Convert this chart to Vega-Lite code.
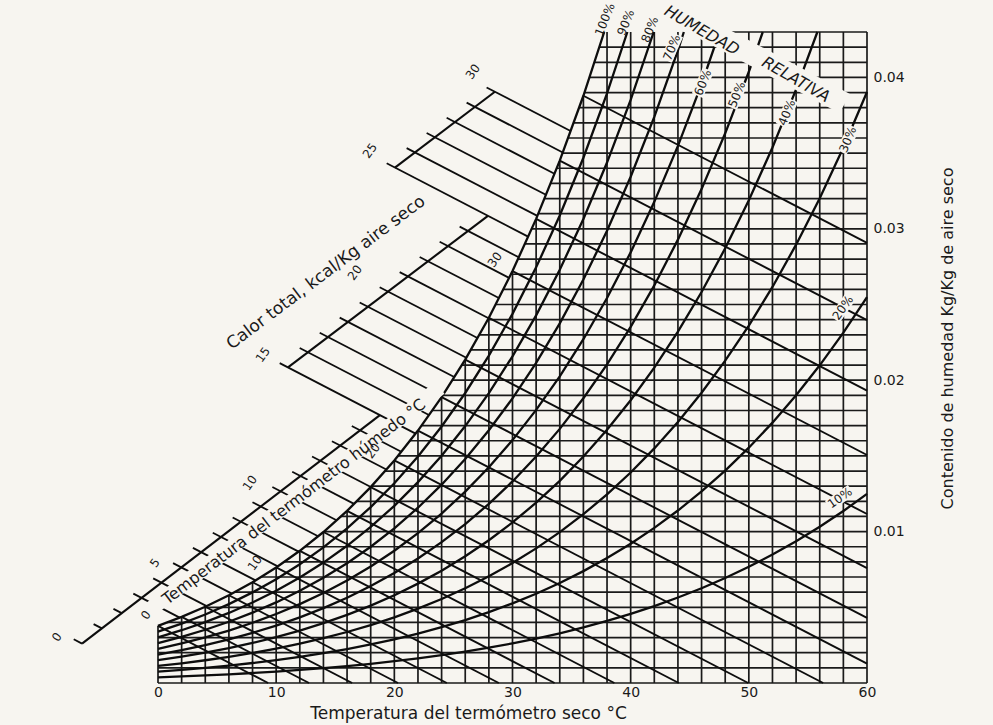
{
"$schema":"https://vega.github.io/schema/vega-lite/v6.json",
"width":709,"height":651,
"autosize":{"type":"none"},
"padding":{"left":158,"top":32,"right":126,"bottom":42},
"background":"#f7f5f0",
"config":{"view":{"stroke":null},"text":{"font":"DejaVu Sans"}},
"datasets":{
"seg":[
{"k":"grid","T":0,"W":0,"T2":0,"W2":0.0037754},
{"k":"grid","T":2,"W":0,"T2":2,"W2":0.0043643},
{"k":"grid","T":4,"W":0,"T2":4,"W2":0.0050349},
{"k":"grid","T":6,"W":0,"T2":6,"W2":0.0057956},
{"k":"grid","T":8,"W":0,"T2":8,"W2":0.0066573},
{"k":"grid","T":10,"W":0,"T2":10,"W2":0.007632},
{"k":"grid","T":12,"W":0,"T2":12,"W2":0.0087322},
{"k":"grid","T":14,"W":0,"T2":14,"W2":0.0099731},
{"k":"grid","T":16,"W":0,"T2":16,"W2":0.0113691},
{"k":"grid","T":18,"W":0,"T2":18,"W2":0.012938},
{"k":"grid","T":20,"W":0,"T2":20,"W2":0.0146989},
{"k":"grid","T":22,"W":0,"T2":22,"W2":0.0166732},
{"k":"grid","T":24,"W":0,"T2":24,"W2":0.018884},
{"k":"grid","T":26,"W":0,"T2":26,"W2":0.0213578},
{"k":"grid","T":28,"W":0,"T2":28,"W2":0.024122},
{"k":"grid","T":30,"W":0,"T2":30,"W2":0.0272097},
{"k":"grid","T":32,"W":0,"T2":32,"W2":0.0306553},
{"k":"grid","T":34,"W":0,"T2":34,"W2":0.0344996},
{"k":"grid","T":36,"W":0,"T2":36,"W2":0.038789},
{"k":"grid","T":38,"W":0,"T2":38,"W2":0.043},
{"k":"grid","T":40,"W":0,"T2":40,"W2":0.043},
{"k":"grid","T":42,"W":0,"T2":42,"W2":0.043},
{"k":"grid","T":44,"W":0,"T2":44,"W2":0.043},
{"k":"grid","T":46,"W":0,"T2":46,"W2":0.043},
{"k":"grid","T":48,"W":0,"T2":48,"W2":0.043},
{"k":"grid","T":50,"W":0,"T2":50,"W2":0.043},
{"k":"grid","T":52,"W":0,"T2":52,"W2":0.043},
{"k":"grid","T":54,"W":0,"T2":54,"W2":0.043},
{"k":"grid","T":56,"W":0,"T2":56,"W2":0.043},
{"k":"grid","T":58,"W":0,"T2":58,"W2":0.043},
{"k":"grid","T":60,"W":0,"T2":60,"W2":0.043},
{"k":"grid","T":0,"W":0,"T2":60,"W2":0},
{"k":"grid","T":0,"W":0.001,"T2":60,"W2":0.001},
{"k":"grid","T":0,"W":0.002,"T2":60,"W2":0.002},
{"k":"grid","T":0,"W":0.003,"T2":60,"W2":0.003},
{"k":"grid","T":0.763,"W":0.004,"T2":60,"W2":0.004},
{"k":"grid","T":3.896,"W":0.005,"T2":60,"W2":0.005},
{"k":"grid","T":6.474,"W":0.006,"T2":60,"W2":0.006},
{"k":"grid","T":8.703,"W":0.007,"T2":60,"W2":0.007},
{"k":"grid","T":10.669,"W":0.008,"T2":60,"W2":0.008},
{"k":"grid","T":12.432,"W":0.009,"T2":60,"W2":0.009},
{"k":"grid","T":14.039,"W":0.010,"T2":60,"W2":0.010},
{"k":"grid","T":15.471,"W":0.011,"T2":60,"W2":0.011},
{"k":"grid","T":16.804,"W":0.012,"T2":60,"W2":0.012},
{"k":"grid","T":18.070,"W":0.013,"T2":60,"W2":0.013},
{"k":"grid","T":19.206,"W":0.014,"T2":60,"W2":0.014},
{"k":"grid","T":20.305,"W":0.015,"T2":60,"W2":0.015},
{"k":"grid","T":21.318,"W":0.016,"T2":60,"W2":0.016},
{"k":"grid","T":22.296,"W":0.017,"T2":60,"W2":0.017},
{"k":"grid","T":23.200,"W":0.018,"T2":60,"W2":0.018},
{"k":"grid","T":24.094,"W":0.019,"T2":60,"W2":0.019},
{"k":"grid","T":24.902,"W":0.020,"T2":60,"W2":0.020},
{"k":"grid","T":25.711,"W":0.021,"T2":60,"W2":0.021},
{"k":"grid","T":26.465,"W":0.022,"T2":60,"W2":0.022},
{"k":"grid","T":27.188,"W":0.023,"T2":60,"W2":0.023},
{"k":"grid","T":27.912,"W":0.024,"T2":60,"W2":0.024},
{"k":"grid","T":28.569,"W":0.025,"T2":60,"W2":0.025},
{"k":"grid","T":29.216,"W":0.026,"T2":60,"W2":0.026},
{"k":"grid","T":29.864,"W":0.027,"T2":60,"W2":0.027},
{"k":"grid","T":30.459,"W":0.028,"T2":60,"W2":0.028},
{"k":"grid","T":31.039,"W":0.029,"T2":60,"W2":0.029},
{"k":"grid","T":31.620,"W":0.030,"T2":60,"W2":0.030},
{"k":"grid","T":32.179,"W":0.031,"T2":60,"W2":0.031},
{"k":"grid","T":32.700,"W":0.032,"T2":60,"W2":0.032},
{"k":"grid","T":33.220,"W":0.033,"T2":60,"W2":0.033},
{"k":"grid","T":33.740,"W":0.034,"T2":60,"W2":0.034},
{"k":"grid","T":34.233,"W":0.035,"T2":60,"W2":0.035},
{"k":"grid","T":34.700,"W":0.036,"T2":60,"W2":0.036},
{"k":"grid","T":35.166,"W":0.037,"T2":60,"W2":0.037},
{"k":"grid","T":35.632,"W":0.038,"T2":60,"W2":0.038},
{"k":"grid","T":36.088,"W":0.039,"T2":60,"W2":0.039},
{"k":"grid","T":36.506,"W":0.040,"T2":60,"W2":0.040},
{"k":"grid","T":36.925,"W":0.041,"T2":60,"W2":0.041},
{"k":"grid","T":37.343,"W":0.042,"T2":60,"W2":0.042},
{"k":"grid","T":48.5,"W":0.043,"T2":60,"W2":0.043},
{"k":"wb","T":0,"W":0.0037754,"T2":9.32,"W2":0},
{"k":"wb","T":2,"W":0.0043643,"T2":12.78,"W2":0},
{"k":"wb","T":4,"W":0.0050349,"T2":16.43,"W2":0},
{"k":"wb","T":6,"W":0.0057956,"T2":20.31,"W2":0},
{"k":"wb","T":8,"W":0.0066573,"T2":24.44,"W2":0},
{"k":"wb","T":10,"W":0.007632,"T2":28.84,"W2":0},
{"k":"wb","T":12,"W":0.0087322,"T2":33.56,"W2":0},
{"k":"wb","T":14,"W":0.0099731,"T2":38.62,"W2":0},
{"k":"wb","T":16,"W":0.0113691,"T2":44.07,"W2":0},
{"k":"wb","T":18,"W":0.012938,"T2":49.95,"W2":0},
{"k":"wb","T":20,"W":0.0146989,"T2":56.29,"W2":0},
{"k":"wb","T":22,"W":0.0166732,"T2":60,"W2":0.0012832},
{"k":"wb","T":24,"W":0.018884,"T2":60,"W2":0.004304},
{"k":"wb","T":26,"W":0.0213578,"T2":60,"W2":0.0075878},
{"k":"wb","T":28,"W":0.024122,"T2":60,"W2":0.011162},
{"k":"wb","T":30,"W":0.0272097,"T2":60,"W2":0.01506},
{"k":"wb","T":32,"W":0.0306553,"T2":60,"W2":0.019315},
{"k":"wb","T":34,"W":0.0344996,"T2":60,"W2":0.02397},
{"k":"wb","T":36,"W":0.038789,"T2":60,"W2":0.029069},
{"k":"h","T":-7.13,"W":0.002886,"T2":-6.43,"W2":0.002602},
{"k":"h","T":-5.449,"W":0.003892,"T2":-4.749,"W2":0.003608},
{"k":"h","T":-3.769,"W":0.004898,"T2":-3.069,"W2":0.004614},
{"k":"h","T":-2.088,"W":0.005905,"T2":1.836,"W2":0.004316},
{"k":"h","T":-0.407,"W":0.006911,"T2":4.116,"W2":0.005079},
{"k":"h","T":1.274,"W":0.007917,"T2":6.248,"W2":0.0059025},
{"k":"h","T":2.954,"W":0.008923,"T2":8.25,"W2":0.0067789},
{"k":"h","T":4.635,"W":0.009929,"T2":10.131,"W2":0.007704},
{"k":"h","T":6.316,"W":0.010936,"T2":11.898,"W2":0.0086759},
{"k":"h","T":7.996,"W":0.011942,"T2":13.549,"W2":0.0096935},
{"k":"h","T":9.677,"W":0.012948,"T2":15.11,"W2":0.0107479},
{"k":"h","T":11.358,"W":0.013954,"T2":16.593,"W2":0.0118343},
{"k":"h","T":13.038,"W":0.01496,"T2":18.01,"W2":0.0129472},
{"k":"h","T":14.719,"W":0.015967,"T2":19.323,"W2":0.0141027},
{"k":"h","T":16.4,"W":0.016973,"T2":20.586,"W2":0.0152778},
{"k":"h","T":10.3,"W":0.021127,"T2":21.798,"W2":0.0164734},
{"k":"h","T":11.992,"W":0.022129,"T2":22.93,"W2":0.0177015},
{"k":"h","T":13.684,"W":0.02313,"T2":24.043,"W2":0.0189374},
{"k":"h","T":15.376,"W":0.024132,"T2":25.07,"W2":0.020208},
{"k":"h","T":17.068,"W":0.025134,"T2":26.09,"W2":0.0214816},
{"k":"h","T":18.76,"W":0.026136,"T2":27.034,"W2":0.0227863},
{"k":"h","T":20.452,"W":0.027137,"T2":27.977,"W2":0.0240908},
{"k":"h","T":22.144,"W":0.028139,"T2":28.845,"W2":0.025426},
{"k":"h","T":23.836,"W":0.029141,"T2":29.71,"W2":0.026762},
{"k":"h","T":25.528,"W":0.030142,"T2":30.527,"W2":0.0281176},
{"k":"h","T":19.35,"W":0.034328,"T2":31.319,"W2":0.0294828},
{"k":"h","T":21.042,"W":0.03533,"T2":32.102,"W2":0.0308517},
{"k":"h","T":22.734,"W":0.036331,"T2":32.827,"W2":0.0322453},
{"k":"h","T":24.426,"W":0.037333,"T2":33.552,"W2":0.0336385},
{"k":"h","T":26.118,"W":0.038335,"T2":34.253,"W2":0.0350413},
{"k":"h","T":27.81,"W":0.039337,"T2":34.914,"W2":0.0364599},
{"k":"sc","T":-6.43,"W":0.002602,"T2":18.78,"W2":0.017695},
{"k":"sc","T":11.0,"W":0.020843,"T2":27.92,"W2":0.03086},
{"k":"sc","T":20.05,"W":0.034044,"T2":28.51,"W2":0.039053},
{"k":"mband","T":-0.677,"W":0.004851,"T2":23.858,"W2":0.019498},
{"k":"mhr","T":41.62,"W":0.045123,"T2":58.12,"W2":0.038269},
{"k":"mlab","T":43.003,"W":0.041124,"T2":43.968,"W2":0.042816},
{"k":"mlab","T":45.643,"W":0.038804,"T2":46.574,"W2":0.040509},
{"k":"mlab","T":48.52,"W":0.038011,"T2":49.45,"W2":0.039716},
{"k":"mlab","T":52.733,"W":0.036828,"T2":53.697,"W2":0.03852},
{"k":"mlab","T":57.817,"W":0.03507,"T2":58.934,"W2":0.036709},
{"k":"mlab","T":57.276,"W":0.024025,"T2":58.629,"W2":0.025545},
{"k":"mlab","T":56.726,"W":0.011699,"T2":58.672,"W2":0.012756}
],
"rh":[
{"p":100,"T":0,"W":0.0037754},{"p":100,"T":2,"W":0.0043643},{"p":100,"T":4,"W":0.0050349},{"p":100,"T":6,"W":0.0057956},{"p":100,"T":8,"W":0.0066573},{"p":100,"T":10,"W":0.007632},{"p":100,"T":12,"W":0.0087322},{"p":100,"T":14,"W":0.0099731},{"p":100,"T":16,"W":0.0113691},{"p":100,"T":18,"W":0.012938},{"p":100,"T":20,"W":0.0146989},{"p":100,"T":22,"W":0.0166732},{"p":100,"T":24,"W":0.018884},{"p":100,"T":26,"W":0.0213578},{"p":100,"T":28,"W":0.024122},{"p":100,"T":30,"W":0.0272097},{"p":100,"T":32,"W":0.0306553},{"p":100,"T":34,"W":0.0344996},{"p":100,"T":36,"W":0.038789},{"p":100,"T":37.76,"W":0.043},
{"p":90,"T":0,"W":0.0033958},{"p":90,"T":2,"W":0.0039251},{"p":90,"T":4,"W":0.0045277},{"p":90,"T":6,"W":0.0052112},{"p":90,"T":8,"W":0.0059852},{"p":90,"T":10,"W":0.0068604},{"p":90,"T":12,"W":0.007848},{"p":90,"T":14,"W":0.0089614},{"p":90,"T":16,"W":0.0102135},{"p":90,"T":18,"W":0.0116201},{"p":90,"T":20,"W":0.0131977},{"p":90,"T":22,"W":0.0149658},{"p":90,"T":24,"W":0.0169442},{"p":90,"T":26,"W":0.0191561},{"p":90,"T":28,"W":0.0216259},{"p":90,"T":30,"W":0.0243818},{"p":90,"T":32,"W":0.0274541},{"p":90,"T":34,"W":0.0308782},{"p":90,"T":36,"W":0.0346933},{"p":90,"T":38,"W":0.0389416},{"p":90,"T":39.72,"W":0.043},
{"p":80,"T":0,"W":0.0030166},{"p":80,"T":2,"W":0.0034865},{"p":80,"T":4,"W":0.0040214},{"p":80,"T":6,"W":0.0046279},{"p":80,"T":8,"W":0.0053145},{"p":80,"T":10,"W":0.0060907},{"p":80,"T":12,"W":0.0069662},{"p":80,"T":14,"W":0.007953},{"p":80,"T":16,"W":0.0090621},{"p":80,"T":18,"W":0.0103076},{"p":80,"T":20,"W":0.0117037},{"p":80,"T":22,"W":0.0132674},{"p":80,"T":24,"W":0.0150159},{"p":80,"T":26,"W":0.0169696},{"p":80,"T":28,"W":0.019149},{"p":80,"T":30,"W":0.0215787},{"p":80,"T":32,"W":0.0242845},{"p":80,"T":34,"W":0.0272968},{"p":80,"T":36,"W":0.0306487},{"p":80,"T":38,"W":0.0343756},{"p":80,"T":40,"W":0.0385125},{"p":80,"T":41.95,"W":0.043},
{"p":70,"T":0,"W":0.0026379},{"p":70,"T":2,"W":0.0030486},{"p":70,"T":4,"W":0.0035159},{"p":70,"T":6,"W":0.0040456},{"p":70,"T":8,"W":0.0046452},{"p":70,"T":10,"W":0.0053228},{"p":70,"T":12,"W":0.0060869},{"p":70,"T":14,"W":0.0069478},{"p":70,"T":16,"W":0.0079149},{"p":70,"T":18,"W":0.0090005},{"p":70,"T":20,"W":0.0102168},{"p":70,"T":22,"W":0.0115782},{"p":70,"T":24,"W":0.0130995},{"p":70,"T":26,"W":0.0147979},{"p":70,"T":28,"W":0.0166911},{"p":70,"T":30,"W":0.0188},{"p":70,"T":32,"W":0.0211457},{"p":70,"T":34,"W":0.0237543},{"p":70,"T":36,"W":0.0266538},{"p":70,"T":38,"W":0.0298722},{"p":70,"T":40,"W":0.0334393},{"p":70,"T":42,"W":0.0373983},{"p":70,"T":44,"W":0.0417874},{"p":70,"T":44.5,"W":0.043},
{"p":60,"T":0,"W":0.0022597},{"p":60,"T":2,"W":0.0026113},{"p":60,"T":4,"W":0.0030112},{"p":60,"T":6,"W":0.0034645},{"p":60,"T":8,"W":0.0039774},{"p":60,"T":10,"W":0.0045568},{"p":60,"T":12,"W":0.00521},{"p":60,"T":14,"W":0.0059457},{"p":60,"T":16,"W":0.0067719},{"p":60,"T":18,"W":0.0076988},{"p":60,"T":20,"W":0.0087367},{"p":60,"T":22,"W":0.0098978},{"p":60,"T":24,"W":0.0111944},{"p":60,"T":26,"W":0.0126409},{"p":60,"T":28,"W":0.0142521},{"p":60,"T":30,"W":0.0160449},{"p":60,"T":32,"W":0.0180373},{"p":60,"T":34,"W":0.0202505},{"p":60,"T":36,"W":0.0227071},{"p":60,"T":38,"W":0.0254303},{"p":60,"T":40,"W":0.028444},{"p":60,"T":42,"W":0.0317826},{"p":60,"T":44,"W":0.035477},{"p":60,"T":46,"W":0.0395627},{"p":60,"T":47.52,"W":0.043},
{"p":50,"T":0,"W":0.0018819},{"p":50,"T":2,"W":0.0021746},{"p":50,"T":4,"W":0.0025073},{"p":50,"T":6,"W":0.0028844},{"p":50,"T":8,"W":0.003311},{"p":50,"T":10,"W":0.0037927},{"p":50,"T":12,"W":0.0043357},{"p":50,"T":14,"W":0.0049469},{"p":50,"T":16,"W":0.0056331},{"p":50,"T":18,"W":0.0064024},{"p":50,"T":20,"W":0.0072636},{"p":50,"T":22,"W":0.0082264},{"p":50,"T":24,"W":0.0093008},{"p":50,"T":26,"W":0.0104986},{"p":50,"T":28,"W":0.0118315},{"p":50,"T":30,"W":0.0133136},{"p":50,"T":32,"W":0.0149589},{"p":50,"T":34,"W":0.0167842},{"p":50,"T":36,"W":0.0188081},{"p":50,"T":38,"W":0.0210486},{"p":50,"T":40,"W":0.0235239},{"p":50,"T":42,"W":0.026262},{"p":50,"T":44,"W":0.0292857},{"p":50,"T":46,"W":0.0326228},{"p":50,"T":48,"W":0.0363084},{"p":50,"T":50,"W":0.040373},{"p":50,"T":51.18,"W":0.043},
{"p":40,"T":0,"W":0.0015047},{"p":40,"T":2,"W":0.0017384},{"p":40,"T":4,"W":0.0020042},{"p":40,"T":6,"W":0.0023054},{"p":40,"T":8,"W":0.0026459},{"p":40,"T":10,"W":0.0030305},{"p":40,"T":12,"W":0.0034637},{"p":40,"T":14,"W":0.0039512},{"p":40,"T":16,"W":0.0044983},{"p":40,"T":18,"W":0.0051115},{"p":40,"T":20,"W":0.0057974},{"p":40,"T":22,"W":0.0065637},{"p":40,"T":24,"W":0.0074185},{"p":40,"T":26,"W":0.0083706},{"p":40,"T":28,"W":0.0094293},{"p":40,"T":30,"W":0.0106055},{"p":40,"T":32,"W":0.0119099},{"p":40,"T":34,"W":0.0133553},{"p":40,"T":36,"W":0.014956},{"p":40,"T":38,"W":0.0167255},{"p":40,"T":40,"W":0.0186779},{"p":40,"T":42,"W":0.0208336},{"p":40,"T":44,"W":0.0232102},{"p":40,"T":46,"W":0.0258277},{"p":40,"T":48,"W":0.0287117},{"p":40,"T":50,"W":0.0318848},{"p":40,"T":52,"W":0.0353738},{"p":40,"T":54,"W":0.0392113},{"p":40,"T":55.8,"W":0.043},
{"p":30,"T":0,"W":0.0011278},{"p":30,"T":2,"W":0.0013029},{"p":30,"T":4,"W":0.001502},{"p":30,"T":6,"W":0.0017275},{"p":30,"T":8,"W":0.0019823},{"p":30,"T":10,"W":0.0022701},{"p":30,"T":12,"W":0.0025942},{"p":30,"T":14,"W":0.0029587},{"p":30,"T":16,"W":0.0033677},{"p":30,"T":18,"W":0.0038257},{"p":30,"T":20,"W":0.0043379},{"p":30,"T":22,"W":0.0049098},{"p":30,"T":24,"W":0.0055473},{"p":30,"T":26,"W":0.0062569},{"p":30,"T":28,"W":0.0070453},{"p":30,"T":30,"W":0.0079204},{"p":30,"T":32,"W":0.0088899},{"p":30,"T":34,"W":0.009963},{"p":30,"T":36,"W":0.01115},{"p":30,"T":38,"W":0.0124605},{"p":30,"T":40,"W":0.013904},{"p":30,"T":42,"W":0.0154954},{"p":30,"T":44,"W":0.0172467},{"p":30,"T":46,"W":0.0191716},{"p":30,"T":48,"W":0.021288},{"p":30,"T":50,"W":0.023611},{"p":30,"T":52,"W":0.0261585},{"p":30,"T":54,"W":0.0289523},{"p":30,"T":56,"W":0.0320143},{"p":30,"T":58,"W":0.0353663},{"p":30,"T":60,"W":0.0390384},
{"p":20,"T":0,"W":0.0007514},{"p":20,"T":2,"W":0.000868},{"p":20,"T":4,"W":0.0010005},{"p":20,"T":6,"W":0.0011505},{"p":20,"T":8,"W":0.0013202},{"p":20,"T":10,"W":0.0015116},{"p":20,"T":12,"W":0.0017271},{"p":20,"T":14,"W":0.0019694},{"p":20,"T":16,"W":0.0022411},{"p":20,"T":18,"W":0.0025453},{"p":20,"T":20,"W":0.0028853},{"p":20,"T":22,"W":0.0032646},{"p":20,"T":24,"W":0.0036873},{"p":20,"T":26,"W":0.0041573},{"p":20,"T":28,"W":0.0046792},{"p":20,"T":30,"W":0.0052579},{"p":20,"T":32,"W":0.0058984},{"p":20,"T":34,"W":0.0066067},{"p":20,"T":36,"W":0.0073892},{"p":20,"T":38,"W":0.0082519},{"p":20,"T":40,"W":0.0092008},{"p":20,"T":42,"W":0.0102452},{"p":20,"T":44,"W":0.0113925},{"p":20,"T":46,"W":0.0126511},{"p":20,"T":48,"W":0.0140319},{"p":20,"T":50,"W":0.0155439},{"p":20,"T":52,"W":0.0171979},{"p":20,"T":54,"W":0.0190065},{"p":20,"T":56,"W":0.020983},{"p":20,"T":58,"W":0.023139},{"p":20,"T":60,"W":0.025492},
{"p":10,"T":0,"W":0.0003755},{"p":10,"T":2,"W":0.0004337},{"p":10,"T":4,"W":0.0004998},{"p":10,"T":6,"W":0.0005748},{"p":10,"T":8,"W":0.0006594},{"p":10,"T":10,"W":0.0007549},{"p":10,"T":12,"W":0.0008623},{"p":10,"T":14,"W":0.0009831},{"p":10,"T":16,"W":0.0011185},{"p":10,"T":18,"W":0.00127},{"p":10,"T":20,"W":0.0014393},{"p":10,"T":22,"W":0.001628},{"p":10,"T":24,"W":0.0018382},{"p":10,"T":26,"W":0.0020717},{"p":10,"T":28,"W":0.0023308},{"p":10,"T":30,"W":0.0026179},{"p":10,"T":32,"W":0.0029353},{"p":10,"T":34,"W":0.0032859},{"p":10,"T":36,"W":0.0036728},{"p":10,"T":38,"W":0.0040987},{"p":10,"T":40,"W":0.0045666},{"p":10,"T":42,"W":0.0050808},{"p":10,"T":44,"W":0.0056445},{"p":10,"T":46,"W":0.0062619},{"p":10,"T":48,"W":0.0069377},{"p":10,"T":50,"W":0.007676},{"p":10,"T":52,"W":0.0084817},{"p":10,"T":54,"W":0.0093603},{"p":10,"T":56,"W":0.0103174},{"p":10,"T":58,"W":0.0113582},{"p":10,"T":60,"W":0.01249}
],
"lab":[
{"g":"hs","txt":"0","T":-8.545,"W":0.00304},
{"g":"hs","txt":"5","T":-0.254,"W":0.007931},
{"g":"hs","txt":"10","T":7.783,"W":0.013219},
{"g":"hs","txt":"15","T":8.883,"W":0.021679},
{"g":"hs","txt":"20","T":16.667,"W":0.027099},
{"g":"hs","txt":"25","T":17.936,"W":0.035162},
{"g":"hs","txt":"30","T":26.65,"W":0.040383},
{"g":"hs","txt":"0","T":-1.015,"W":0.004494},
{"g":"hs","txt":"10","T":8.206,"W":0.007931},
{"g":"hs","txt":"20","T":18.19,"W":0.015334},
{"g":"hs","txt":"30","T":28.511,"W":0.027958},
{"g":"rh","txt":"100%","T":37.817,"W":0.043819},
{"g":"rh","txt":"90%","T":39.594,"W":0.043622},
{"g":"rh","txt":"80%","T":41.624,"W":0.043159},
{"g":"rh","txt":"70%","T":43.486,"W":0.04197},
{"g":"rh","txt":"60%","T":46.108,"W":0.039656},
{"g":"rh","txt":"50%","T":48.985,"W":0.038863},
{"g":"rh","txt":"40%","T":53.215,"W":0.037674},
{"g":"rh","txt":"30%","T":58.376,"W":0.035889},
{"g":"rh20","txt":"20%","T":57.953,"W":0.024785},
{"g":"rh10","txt":"10%","T":57.699,"W":0.012227},
{"g":"hr","txt":"HUMEDAD","T":46.024,"W":0.043093},
{"g":"hr","txt":"RELATIVA","T":53.976,"W":0.039855},
{"g":"wbt","txt":"Temperatura del termómetro húmedo °C","T":11.506,"W":0.011963},
{"g":"ht","txt":"Calor total, kcal/Kg aire seco","T":14.213,"W":0.027099}
]
},
"encoding":{
"x":{"field":"T","type":"quantitative","scale":{"domain":[0,60],"nice":false,"zero":false},
"axis":{"values":[0,10,20,30,40,50,60],"domain":false,"ticks":false,"grid":false,"labelFlush":false,"labelFont":"DejaVu Sans","labelFontSize":14,"labelColor":"#1a1a1a","labelPadding":2,
"title":"Temperatura del termómetro seco °C","titleFont":"DejaVu Sans","titleFontSize":17,"titleFontWeight":"normal","titleColor":"#1a1a1a","titleX":310,"titleY":30,"titleAlign":"center","titleBaseline":"middle"}},
"y":{"field":"W","type":"quantitative","scale":{"domain":[0,0.043],"nice":false,"zero":false},
"axis":{"orient":"right","values":[0.01,0.02,0.03,0.04],"format":".2f","domain":false,"ticks":false,"grid":false,"labelFlush":false,"labelFont":"DejaVu Sans","labelFontSize":14,"labelColor":"#1a1a1a","labelPadding":6,
"title":"Contenido de humedad Kg/Kg de aire seco","titleFont":"DejaVu Sans","titleFontSize":16,"titleFontWeight":"normal","titleColor":"#1a1a1a","titleAngle":270,"titleX":80,"titleY":306,"titleAlign":"center","titleBaseline":"middle"}}
},
"layer":[
{"data":{"name":"seg"},"transform":[{"filter":"datum.k=='grid'"}],"mark":{"type":"rule","color":"#1a1a1a","strokeWidth":1.7},"encoding":{"x2":{"field":"T2"},"y2":{"field":"W2"}}},
{"data":{"name":"rh"},"mark":{"type":"line","color":"#0d0d0d","strokeWidth":2.3},"encoding":{"detail":{"field":"p","type":"nominal"},"order":{"field":"T","type":"quantitative"}}},
{"data":{"name":"seg"},"transform":[{"filter":"datum.k=='wb'"}],"mark":{"type":"rule","color":"#0d0d0d","strokeWidth":1.9},"encoding":{"x2":{"field":"T2"},"y2":{"field":"W2"}}},
{"data":{"name":"seg"},"transform":[{"filter":"datum.k=='h'"}],"mark":{"type":"rule","color":"#0d0d0d","strokeWidth":1.8},"encoding":{"x2":{"field":"T2"},"y2":{"field":"W2"}}},
{"data":{"name":"seg"},"transform":[{"filter":"datum.k=='sc'"}],"mark":{"type":"rule","color":"#0d0d0d","strokeWidth":2.1},"encoding":{"x2":{"field":"T2"},"y2":{"field":"W2"}}},
{"data":{"name":"seg"},"transform":[{"filter":"datum.k=='mband'"}],"mark":{"type":"rule","color":"#f7f5f0","strokeWidth":15,"strokeCap":"butt"},"encoding":{"x2":{"field":"T2"},"y2":{"field":"W2"}}},
{"data":{"name":"seg"},"transform":[{"filter":"datum.k=='mhr'"}],"mark":{"type":"rule","color":"#f7f5f0","strokeWidth":22,"strokeCap":"butt"},"encoding":{"x2":{"field":"T2"},"y2":{"field":"W2"}}},
{"data":{"name":"seg"},"transform":[{"filter":"datum.k=='mlab'"}],"mark":{"type":"rule","color":"#f7f5f0","strokeWidth":12,"strokeCap":"butt"},"encoding":{"x2":{"field":"T2"},"y2":{"field":"W2"}}},
{"data":{"name":"lab"},"transform":[{"filter":"datum.g=='hs'"}],"mark":{"type":"text","angle":-55,"fontSize":12,"color":"#1a1a1a","align":"center","baseline":"middle"},"encoding":{"text":{"field":"txt"}}},
{"data":{"name":"lab"},"transform":[{"filter":"datum.g=='rh'"}],"mark":{"type":"text","angle":-68,"fontSize":12,"color":"#1a1a1a","align":"center","baseline":"middle"},"encoding":{"text":{"field":"txt"}}},
{"data":{"name":"lab"},"transform":[{"filter":"datum.g=='rh20'"}],"mark":{"type":"text","angle":-55,"fontSize":12,"color":"#1a1a1a","align":"center","baseline":"middle"},"encoding":{"text":{"field":"txt"}}},
{"data":{"name":"lab"},"transform":[{"filter":"datum.g=='rh10'"}],"mark":{"type":"text","angle":-35,"fontSize":12,"color":"#1a1a1a","align":"center","baseline":"middle"},"encoding":{"text":{"field":"txt"}}},
{"data":{"name":"lab"},"transform":[{"filter":"datum.g=='hr'"}],"mark":{"type":"text","angle":30,"fontSize":16,"fontStyle":"italic","color":"#1a1a1a","align":"center","baseline":"middle"},"encoding":{"text":{"field":"txt"}}},
{"data":{"name":"lab"},"transform":[{"filter":"datum.g=='wbt'"}],"mark":{"type":"text","angle":-37.5,"fontSize":16,"color":"#1a1a1a","align":"center","baseline":"middle"},"encoding":{"text":{"field":"txt"}}},
{"data":{"name":"lab"},"transform":[{"filter":"datum.g=='ht'"}],"mark":{"type":"text","angle":-37,"fontSize":17,"color":"#1a1a1a","align":"center","baseline":"middle"},"encoding":{"text":{"field":"txt"}}}
]
}
